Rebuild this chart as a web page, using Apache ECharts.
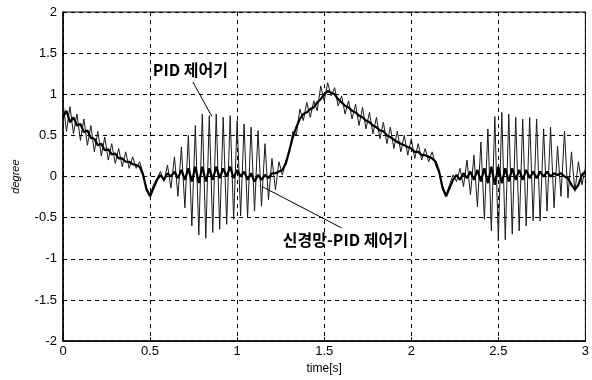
<!DOCTYPE html>
<html>
<head>
<meta charset="utf-8">
<script src="https://cdn.jsdelivr.net/npm/echarts@6/dist/echarts.min.js"></script>
<style>
  html, body { margin: 0; padding: 0; background: #fff; }
  #chart { width: 592px; height: 380px; }
</style>
</head>
<body>
<div id="chart"></div>
<script>
// sample step of the traces (s)
const step = 0.02

// 신경망-PID 제어기 (thick trace), one value every 0.02 s from 0 to 3 s
const nnPid = [
  0.72, 0.80, 0.66, 0.72, 0.62, 0.64, 0.54, 0.56, 0.47, 0.46,
  0.38, 0.40, 0.32, 0.33, 0.27, 0.28, 0.22, 0.22, 0.18, 0.18,
  0.15, 0.14, 0.12, 0.02, -0.16, -0.24, -0.14, -0.04, 0.02, -0.04,
  0.04, 0.00, 0.06, -0.02, 0.08, -0.04, 0.10, -0.06, 0.12, -0.08,
  0.12, -0.06, 0.10, -0.04, 0.12, -0.02, 0.10, 0.00, 0.12, -0.02,
  0.08, 0.00, 0.06, -0.04, 0.04, -0.06, 0.02, -0.04, 0.02, -0.02,
  0.04, 0.04, 0.06, 0.08, 0.16, 0.32, 0.48, 0.60, 0.70, 0.76,
  0.78, 0.82, 0.84, 0.90, 0.94, 1.00, 1.04, 1.02, 1.00, 0.94,
  0.90, 0.86, 0.84, 0.80, 0.78, 0.74, 0.72, 0.68, 0.66, 0.62,
  0.60, 0.56, 0.55, 0.50, 0.48, 0.45, 0.42, 0.40, 0.38, 0.36,
  0.34, 0.30, 0.30, 0.26, 0.26, 0.24, 0.22, 0.18, 0.06, -0.14,
  -0.24, -0.14, -0.04, 0.02, -0.04, 0.04, -0.02, 0.06, -0.04, 0.08,
  -0.06, 0.10, -0.08, 0.12, -0.10, 0.12, -0.08, 0.10, -0.06, 0.10,
  -0.04, 0.08, -0.04, 0.08, -0.02, 0.06, -0.02, 0.06, 0.00, 0.06,
  0.00, 0.04, 0.02, 0.04, 0.00, -0.02, -0.10, -0.16, -0.10, 0.02,
  0.06
]

// PID 제어기 (oscillating trace)
const pid = [
  0.90, 0.55, 0.85, 0.52, 0.76, 0.44, 0.70, 0.38, 0.62, 0.30,
  0.55, 0.25, 0.48, 0.20, 0.40, 0.16, 0.34, 0.12, 0.30, 0.10,
  0.24, 0.10, 0.18, 0.04, -0.14, -0.22, -0.10, -0.02, 0.06, -0.06,
  0.14, -0.14, 0.24, -0.24, 0.36, -0.38, 0.50, -0.60, 0.62, -0.71,
  0.76, -0.75, 0.74, -0.68, 0.76, -0.64, 0.72, -0.58, 0.74, -0.52,
  0.68, -0.48, 0.64, -0.50, 0.60, -0.42, 0.56, -0.36, 0.40, -0.28,
  0.22, -0.16, 0.18, 0.02, 0.20, 0.28, 0.55, 0.50, 0.82, 0.68,
  0.90, 0.72, 0.92, 0.80, 1.10, 0.92, 1.14, 0.98, 1.08, 0.86,
  0.98, 0.76, 0.92, 0.70, 0.88, 0.62, 0.84, 0.58, 0.78, 0.52,
  0.72, 0.46, 0.66, 0.40, 0.60, 0.34, 0.55, 0.30, 0.50, 0.26,
  0.46, 0.22, 0.40, 0.20, 0.34, 0.18, 0.30, 0.14, 0.04, -0.12,
  -0.22, -0.10, 0.02, -0.06, 0.10, -0.12, 0.20, -0.22, 0.26, -0.37,
  0.42, -0.52, 0.58, -0.66, 0.73, -0.78, 0.78, -0.77, 0.76, -0.70,
  0.72, -0.66, 0.70, -0.60, 0.72, -0.54, 0.70, -0.54, 0.58, -0.42,
  0.60, -0.38, 0.37, -0.24, 0.55, -0.26, 0.30, -0.18, 0.18, -0.10,
  0.10
]

// annotation texts and where they sit (data units: [time, degree])
const pidLabel = 'PID 제어기'
const nnLabel = '신경망-PID 제어기'
const pidLabelAt = [0.516, 1.30]
const pidArrow = [[0.746, 1.15], [0.855, 0.73]]
const nnLabelAt = [1.262, -0.77]
const nnArrow = [[1.142, -0.12], [1.60, -0.625]]

const toPairs = (vals) => vals.map((v, i) => [+(i * step).toFixed(2), v])

const chart = echarts.init(document.getElementById('chart'))

const axisFont = { color: '#000', fontSize: 13, fontFamily: 'Liberation Sans, Arial, sans-serif' }

chart.setOption({
  animation: false,
  backgroundColor: '#fff',
  grid: { left: 63, right: 6, top: 12, bottom: 35, show: true, borderColor: '#000', borderWidth: 1 },
  xAxis: {
    type: 'value', min: 0, max: 3, interval: 0.5,
    name: 'time[s]', nameLocation: 'middle', nameGap: 20,
    nameTextStyle: { color: '#000', fontSize: 12, fontFamily: 'Liberation Sans, Arial, sans-serif' },
    axisLine: { show: true, onZero: false, lineStyle: { color: '#000', width: 1.5 } },
    axisTick: { show: true, inside: true, length: 4, lineStyle: { color: '#000' } },
    axisLabel: Object.assign({ margin: 4 }, axisFont),
    splitLine: { show: true, lineStyle: { color: '#000', type: [4, 4], width: 1 } }
  },
  yAxis: {
    type: 'value', min: -2, max: 2, interval: 0.5,
    name: 'degree', nameLocation: 'middle', nameGap: 42, nameRotate: 90,
    nameTextStyle: { color: '#000', fontSize: 11, fontStyle: 'italic', fontFamily: 'Liberation Sans, Arial, sans-serif' },
    axisLine: { show: true, onZero: false, lineStyle: { color: '#000', width: 1.5 } },
    axisTick: { show: true, inside: true, length: 4, lineStyle: { color: '#000' } },
    axisLabel: Object.assign({ margin: 6 }, axisFont),
    splitLine: { show: true, lineStyle: { color: '#000', type: [4, 4], width: 1 } }
  },
  series: [
    {
      name: pidLabel, type: 'line', data: toPairs(pid),
      symbol: 'none', lineStyle: { color: '#1a1a1a', width: 1 }
    },
    {
      name: nnLabel, type: 'line', data: toPairs(nnPid),
      symbol: 'none', lineStyle: { color: '#000', width: 2.2 }
    }
  ]
})

// annotations placed through the chart's own coordinate conversion
const px = (p) => chart.convertToPixel({ gridIndex: 0 }, p)
const arrowLine = (a) => {
  const p0 = px(a[0]), p1 = px(a[1])
  return { type: 'line', shape: { x1: p0[0], y1: p0[1], x2: p1[0], y2: p1[1] }, style: { stroke: '#000', lineWidth: 1 }, z: 100 }
}
const labelText = (txt, at, size) => {
  const p = px(at)
  return {
    type: 'text', x: p[0], y: p[1], z: 100,
    style: { text: txt, fill: '#000', font: 'bold ' + size + 'px "Noto Sans CJK KR", sans-serif', textAlign: 'left', textVerticalAlign: 'middle' }
  }
}
chart.setOption({
  graphic: [
    arrowLine(pidArrow),
    arrowLine(nnArrow),
    labelText(pidLabel, pidLabelAt, 16),
    labelText(nnLabel, nnLabelAt, 16)
  ]
})
</script>
</body>
</html>
